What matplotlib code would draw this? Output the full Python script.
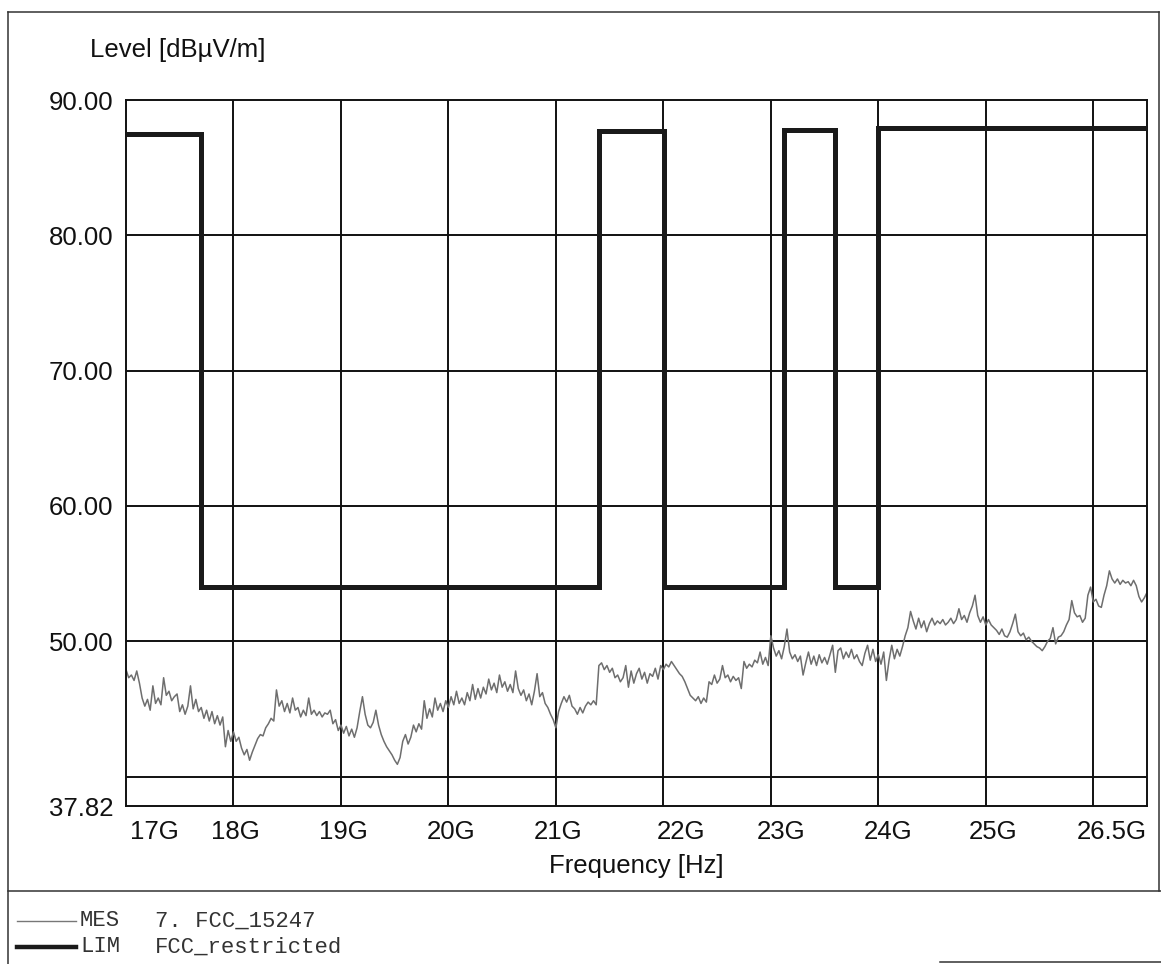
import numpy as np
import matplotlib
matplotlib.use("Agg")
import matplotlib.pyplot as plt
from matplotlib.lines import Line2D

# measured level, 17 GHz .. 26.5 GHz in 25 MHz steps
mes_start, mes_stop, mes_step = 17.0, 26.5, 0.025
mes_level = [
    47.9, 47.3, 47.5, 47.1, 47.8, 46.9, 45.8, 45.2, 45.7, 44.9, 46.7, 45.4, 45.8, 45.3, 47.3, 46.0, 46.3, 45.6, 45.9, 46.1,
    44.8, 45.3, 44.6, 45.2, 46.7, 45.0, 45.7, 44.8, 45.1, 44.3, 44.9, 44.1, 44.8, 43.9, 44.5, 43.8, 44.4, 42.2, 43.4, 42.6,
    43.3, 42.6, 42.9, 42.1, 41.6, 42.0, 41.2, 41.8, 42.3, 42.8, 43.1, 43.0, 43.6, 43.9, 44.3, 44.1, 46.4, 45.2, 45.6, 44.8,
    45.4, 44.7, 45.8, 44.9, 45.1, 44.4, 44.9, 44.5, 45.8, 44.6, 44.9, 44.5, 44.8, 44.4, 44.7, 44.6, 44.9, 43.9, 44.2, 43.4,
    43.8, 43.2, 43.7, 43.0, 43.5, 42.9, 43.6, 44.8, 45.9, 44.6, 43.8, 43.6, 44.0, 44.9, 43.8, 43.1, 42.6, 42.2, 41.9, 41.6,
    41.2, 40.9, 41.4, 42.6, 43.1, 42.4, 42.9, 43.8, 43.3, 43.9, 43.5, 45.6, 44.3, 45.0, 44.4, 45.8, 44.9, 45.4, 44.8, 45.6,
    45.1, 45.9, 45.3, 46.3, 45.4, 45.8, 45.3, 46.2, 45.6, 46.8, 45.7, 46.5, 45.8, 46.6, 46.1, 47.2, 46.4, 46.9, 46.2, 47.5,
    46.6, 47.0, 46.3, 46.8, 46.2, 47.8, 46.5, 46.0, 46.4, 45.6, 46.1, 45.3, 46.3, 47.6, 45.9, 46.2, 45.4, 45.1, 44.6, 44.2,
    43.6, 44.8, 45.4, 45.9, 45.5, 46.0, 45.2, 45.0, 44.6, 45.1, 44.7, 45.2, 45.5, 45.3, 45.6, 45.3, 48.2, 48.4, 47.9, 48.2,
    47.7, 48.0, 47.3, 47.5, 47.0, 47.3, 48.2, 46.6, 47.8, 46.9, 47.6, 48.0, 47.2, 47.7, 46.9, 47.6, 47.4, 48.0, 47.2, 48.2,
    47.9, 48.3, 48.1, 48.5, 48.2, 47.9, 47.6, 47.4, 47.0, 46.5, 46.0, 45.8, 45.6, 45.9, 45.4, 45.8, 45.5, 47.0, 46.8, 47.5,
    46.9, 47.2, 48.2, 47.3, 47.5, 47.0, 47.4, 47.1, 47.3, 46.5, 48.5, 48.0, 48.3, 48.1, 48.6, 48.4, 49.2, 48.3, 48.8, 48.2,
    50.4, 49.5, 48.9, 49.3, 48.7, 49.6, 50.9, 49.2, 48.7, 49.0, 48.5, 48.9, 47.5, 48.4, 49.2, 48.3, 48.9, 48.2, 49.0, 48.4,
    48.8, 48.3, 49.0, 49.7, 47.7, 49.3, 49.5, 48.7, 49.2, 48.8, 49.4, 48.7, 49.0, 48.5, 48.2, 49.1, 49.7, 48.6, 49.4, 48.5,
    49.0, 48.3, 49.2, 47.1, 48.6, 49.7, 48.7, 49.4, 48.9, 49.6, 50.4, 51.0, 52.2, 51.5, 50.9, 51.7, 51.0, 51.5, 50.7, 51.3,
    51.7, 51.2, 51.5, 51.3, 51.6, 51.2, 51.4, 51.7, 51.3, 51.6, 52.4, 51.6, 51.9, 51.4, 52.1, 52.6, 53.4, 51.9, 51.4, 51.8,
    51.2, 51.6, 51.2, 51.0, 50.8, 50.5, 50.9, 50.4, 50.3, 50.7, 51.3, 52.0, 50.7, 50.4, 50.6, 50.1, 50.3, 50.0, 49.8, 49.6,
    49.5, 49.3, 49.6, 50.0, 50.2, 51.0, 49.8, 50.3, 50.4, 50.7, 51.2, 51.6, 53.0, 52.1, 51.8, 51.9, 51.4, 51.7, 53.4, 54.0,
    52.9, 53.1, 52.6, 52.5, 53.4, 54.1, 55.2, 54.6, 54.3, 54.6, 54.2, 54.5, 54.3, 54.4, 54.1, 54.5, 54.1, 53.3, 52.9, 53.2,
    53.6,
]

# FCC restricted-band limit: band edges [GHz] and level per band [dBuV/m]
lim_edges = [17.0, 17.7, 21.4, 22.01, 23.12, 23.6, 24.0, 26.5]
lim_level = [87.5, 54.0, 87.7, 54.0, 87.8, 54.0, 87.9]

y_min, y_max = 37.82, 90.0
y_grid = [40, 50, 60, 70, 80]
y_labels = [90.0, 80.0, 70.0, 60.0, 50.0, 37.82]
x_grid = [18, 19, 20, 21, 22, 23, 24, 25, 26]
x_label_pos = [17.037, 18.02, 19.024, 20.024, 21.02, 22.16, 23.095, 24.09, 25.067, 26.5]
x_label_txt = ["17G", "18G", "19G", "20G", "21G", "22G", "23G", "24G", "25G", "26.5G"]

W, H = 1161, 964
plt.rcParams["font.family"] = ["Liberation Sans", "DejaVu Sans"]

fig = plt.figure(figsize=(W / 100, H / 100), dpi=100)
fig.patch.set_facecolor("white")

def px(x, y):
    return x / W, 1 - y / H

l, t = px(126, 100)
r, b = px(1147, 806)
ax = fig.add_axes([l, b, r - l, t - b])

freq = mes_start + mes_step * np.arange(len(mes_level))

for v in y_grid:
    ax.axhline(v, color="#111111", lw=1.4, zorder=1)
for f in x_grid:
    ax.axvline(f, color="#111111", lw=1.4, zorder=1)

ax.plot(freq, mes_level, color="#6e6e6e", lw=1.1, zorder=2)
ax.stairs(lim_level, lim_edges, baseline=None, color="#1a1a1a", lw=3.6, zorder=3)

ax.set_xlim(mes_start, mes_stop)
ax.set_ylim(y_min, y_max)
for s in ax.spines.values():
    s.set_linewidth(1.4)
    s.set_color("#111111")

ax.set_yticks(y_labels, [f"{v:.2f}" for v in y_labels])
ax.set_xticks(x_label_pos, x_label_txt)
ax.tick_params(axis="both", length=0, labelsize=18.5, colors="#111111")
ax.tick_params(axis="x", pad=10)
ax.tick_params(axis="y", pad=9)
xt = ax.get_xticklabels()
xt[0].set_ha("left")
xt[-1].set_ha("right")

ax.set_xlabel("Frequency [Hz]", fontsize=18.5, color="#111111", labelpad=12)
ax.xaxis.set_label_coords(0.5, -0.068)
fig.text(*px(90, 50), "Level [dB\u00b5V/m]", fontsize=18.5, ha="left", va="center", color="#111111")

# outer frame and legend panel
def fline(x0, y0, x1, y1, **kw):
    a, c = px(x0, y0)
    d, e = px(x1, y1)
    fig.add_artist(Line2D([a, d], [c, e], transform=fig.transFigure, **kw))

frame = dict(color="#333333", lw=1.1)
fline(8, 12, 1159, 12, **frame)
fline(8, 12, 8, 964, **frame)
fline(1159, 12, 1159, 891, **frame)
fline(8, 891, 1161, 891, **frame)
fline(940, 962, 1161, 962, **frame)

fline(17, 921, 76, 921, color="#777777", lw=1.0)
fline(17, 947, 76, 947, color="#1a1a1a", lw=3.2)
mono = dict(family=["Liberation Mono", "DejaVu Sans Mono"], fontsize=16, va="center", color="#333333")
fig.text(*px(80, 921), "MES", **mono)
fig.text(*px(155, 921), "7. FCC_15247", **mono)
fig.text(*px(80, 947), "LIM", **mono)
fig.text(*px(155, 947), "FCC_restricted", **mono)

fig.savefig("out.png", dpi=100)
